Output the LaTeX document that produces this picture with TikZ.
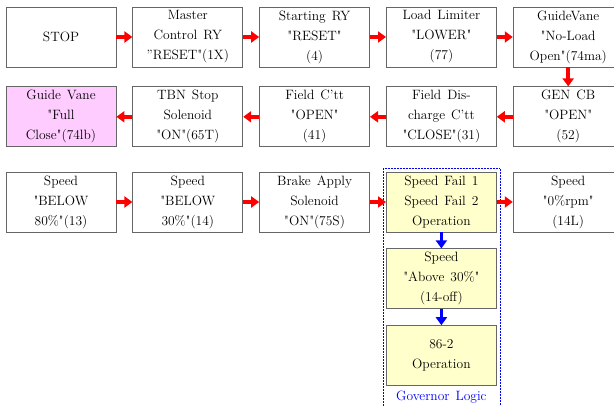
\documentclass[tikz,border=0pt]{standalone}
\usetikzlibrary{arrows.meta}
\usetikzlibrary{positioning}
\definecolor{pinkfill}{rgb}{1,0.8,1}
\definecolor{yellowfill}{rgb}{1,1,0.8}
\definecolor{boxgray}{rgb}{0.4,0.4,0.4}
\newcommand\boxfont{\fontsize{13.5}{20}\selectfont\spaceskip=6pt\relax}
\newcommand\dq{\textquotedbl}

\begin{document}
\begin{tikzpicture}[x=1pt,y=1pt,font=\boxfont,
box/.style={draw=boxgray,line width=0.8pt,minimum width=110pt,minimum height=60pt,align=center,inner sep=1pt},
govbox/.style={box,fill=yellowfill},
redarr/.style={-{Triangle[length=8pt,width=11pt]},line width=3.5pt,red},
bluearr/.style={redarr,blue},
node distance=16pt]
\useasboundingbox (0,0) rectangle (614,405);
% first row
\node[box] (stop) at (61,368) {STOP};
\node[box,right=of stop] (mcr) {Master\\Control RY\\”RESET\dq(1X)};
\node[box,right=of mcr] (srr) {Starting RY\\\dq RESET\dq\\(4)};
\node[box,right=of srr] (llim) {Load Limiter\\\dq LOWER\dq\\(77)};
\node[box,right=of llim] (gvopen) {GuideVane\\\dq No-Load\\Open\dq(74ma)};
% second row, right to left
\node[box,below=19pt of gvopen] (gencb) {GEN CB\\\dq OPEN\dq\\(52)};
\node[box,left=of gencb] (fdis) {Field Dis-\\charge C'tt\\\dq CLOSE\dq(31)};
\node[box,left=of fdis] (fopen) {Field C'tt\\\dq OPEN\dq\\(41)};
\node[box,left=of fopen] (tbn) {TBN Stop\\Solenoid\\\dq ON\dq(65T)};
\node[box,left=of tbn,fill=pinkfill] (gvclose) {Guide Vane\\\dq Full\\Close\dq(74lb)};
% third row
\node[box] (spd80) at (61,203) {Speed\\\dq BELOW\\80\%\dq(13)};
\node[box,right=of spd80] (spd30) {Speed\\\dq BELOW\\30\%\dq(14)};
\node[box,right=of spd30] (brake) {Brake Apply\\Solenoid\\\dq ON\dq(75S)};
\node[govbox,right=of brake] (spdfail) {Speed Fail 1\\Speed Fail 2\\Operation};
\node[box,right=of spdfail] (spd0) {Speed\\\dq 0\%rpm\dq\\(14L)};
\node[govbox,below=of spdfail] (spdabove) {Speed\\\dq Above 30\%\dq\\(14-off)};
\node[govbox,below=of spdabove] (op862) {86-2\\Operation};
% governor frame
\draw[blue,densely dotted,line width=0.5pt] ([xshift=-3pt]spdfail.west |- 0,-2) |- ([yshift=3pt]spdfail.north) -| ([xshift=3pt]spdfail.east |- 0,-2);
\node[blue] (govlabel) at (spdfail.center |- 0,8) {Governor Logic};
\foreach \a/\b in {stop/mcr,mcr/srr,srr/llim,llim/gvopen,gvopen/gencb,gencb/fdis,fdis/fopen,fopen/tbn,tbn/gvclose,spd80/spd30,spd30/brake,brake/spdfail,spdfail/spd0}
\draw[redarr] (\a) -- (\b);
\draw[bluearr] (spdfail) -- (spdabove);
\draw[bluearr] (spdabove) -- (op862);
\end{tikzpicture}
\end{document}
